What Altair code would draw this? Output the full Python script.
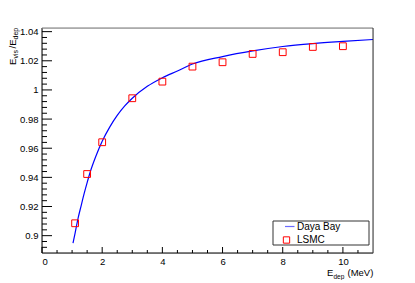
import altair as alt
import pandas as pd

FONT = "Liberation Sans"

# Daya Bay curve
curve_x = [1.03, 1.1, 1.2, 1.3, 1.4, 1.5, 1.6, 1.8, 2.0, 2.25, 2.5, 2.75, 3.0,
           3.5, 4.0, 4.5, 5.0, 6.0, 7.0, 8.0, 9.0, 10.0, 11.0]
curve_y = [0.8948, 0.9018, 0.9120, 0.9205, 0.9288, 0.9364, 0.9435, 0.9550,
           0.9648, 0.9745, 0.9825, 0.9890, 0.9943, 1.0025, 1.0083, 1.0130,
           1.0178, 1.0229, 1.0268, 1.0298, 1.0318, 1.0333, 1.0346]

# LSMC points
lsmc_x = [1.1, 1.5, 2, 3, 4, 5, 6, 7, 8, 9, 10]
lsmc_y = [0.9085, 0.9423, 0.9641, 0.9943, 1.0057, 1.016, 1.019, 1.0247,
          1.0259, 1.0295, 1.030]

# axis ticks
x_major = [0, 2, 4, 6, 8, 10]
x_minor = [0.5, 1, 1.5, 2.5, 3, 3.5, 4.5, 5, 5.5, 6.5, 7, 7.5, 8.5, 9, 9.5, 10.5]
y_major = [0.9, 0.92, 0.94, 0.96, 0.98, 1.0, 1.02, 1.04]
y_minor = [0.892, 0.896, 0.904, 0.908, 0.912, 0.916, 0.924, 0.928, 0.932,
           0.936, 0.944, 0.948, 0.952, 0.956, 0.964, 0.968, 0.972, 0.976,
           0.984, 0.988, 0.992, 0.996, 1.004, 1.008, 1.012, 1.016, 1.024,
           1.028, 1.032, 1.036]

legend_labels = ["Daya Bay", "LSMC"]

W, H = 331, 225
xs = alt.Scale(domain=[0, 11], nice=False, zero=False)
ys = alt.Scale(domain=[0.8881, 1.0425], nice=False, zero=False)

curve_df = pd.DataFrame({"x": curve_x, "y": curve_y})
lsmc_df = pd.DataFrame({"x": lsmc_x, "y": lsmc_y})
one = alt.Data(values=[{"a": 1}])

x_axis = alt.Axis(values=x_major, ticks=False, domain=False, grid=False,
                  labelFont=FONT, labelFontSize=9.5, labelColor="black",
                  labelPadding=3, title=None)
y_axis = alt.Axis(values=y_major, ticks=False, domain=False, grid=False,
                  labelFont=FONT, labelFontSize=9.5, labelColor="black",
                  labelPadding=4, title=None,
                  labelExpr="format(datum.value, '.2~f')")

curve = alt.Chart(curve_df).mark_line(color="#0000ff", strokeWidth=1.2,
                                      interpolate="monotone").encode(
    x=alt.X("x:Q", scale=xs, axis=x_axis),
    y=alt.Y("y:Q", scale=ys, axis=y_axis),
)

points = alt.Chart(lsmc_df).mark_point(shape="square", size=46, color="#ff0000",
                                       strokeWidth=1, filled=False, opacity=1).encode(
    x=alt.X("x:Q", scale=xs, axis=x_axis),
    y=alt.Y("y:Q", scale=ys, axis=y_axis),
)

ymaj = alt.Chart(pd.DataFrame({"v": y_major})).mark_rule(color="black", strokeWidth=1).encode(
    y=alt.Y("v:Q", scale=ys, axis=y_axis), x=alt.value(0), x2=alt.value(10))
ymin = alt.Chart(pd.DataFrame({"v": y_minor})).mark_rule(color="black", strokeWidth=1).encode(
    y=alt.Y("v:Q", scale=ys, axis=y_axis), x=alt.value(0), x2=alt.value(5))
xmaj = alt.Chart(pd.DataFrame({"v": x_major})).mark_rule(color="black", strokeWidth=1).encode(
    x=alt.X("v:Q", scale=xs, axis=x_axis), y=alt.value(H), y2=alt.value(H - 6))
xmin = alt.Chart(pd.DataFrame({"v": x_minor})).mark_rule(color="black", strokeWidth=1).encode(
    x=alt.X("v:Q", scale=xs, axis=x_axis), y=alt.value(H), y2=alt.value(H - 3))

# frame
f_left = alt.Chart(one).mark_rule(color="black", strokeWidth=1).encode(
    x=alt.value(0), y=alt.value(0), y2=alt.value(H))
f_bottom = alt.Chart(one).mark_rule(color="black", strokeWidth=1).encode(
    x=alt.value(0), x2=alt.value(W), y=alt.value(H))
f_top = alt.Chart(one).mark_rule(color="#7a7a7a", strokeWidth=1.2).encode(
    x=alt.value(0), x2=alt.value(W), y=alt.value(0))
f_right = alt.Chart(one).mark_rule(color="#333333", strokeWidth=1).encode(
    x=alt.value(W), y=alt.value(0), y2=alt.value(H))

# legend
leg_box = alt.Chart(one).mark_rect(fill="white", stroke="#333333", strokeWidth=1).encode(
    x=alt.value(231), x2=alt.value(327), y=alt.value(193), y2=alt.value(217))
leg_line = alt.Chart(one).mark_rule(color="#6b6bff", strokeWidth=1.2).encode(
    x=alt.value(243), x2=alt.value(252.5), y=alt.value(198.5))
leg_pt = alt.Chart(one).mark_point(shape="square", size=40, color="#ff0000",
                                   strokeWidth=1, filled=False, opacity=1).encode(
    x=alt.value(244.5), y=alt.value(212))
leg_t1 = alt.Chart(one).mark_text(text=legend_labels[0], align="left", baseline="middle",
                                  font=FONT, fontSize=10, color="black").encode(
    x=alt.value(255), y=alt.value(198.5))
leg_t2 = alt.Chart(one).mark_text(text=legend_labels[1], align="left", baseline="middle",
                                  font=FONT, fontSize=10, color="black").encode(
    x=alt.value(255), y=alt.value(212))

# axis titles (with subscripts)
def txt(t, x, y, size, angle=0):
    kw = dict(text=t, align="left", baseline="alphabetic", font=FONT,
              fontSize=size, color="black")
    if angle:
        kw["angle"] = angle
    return alt.Chart(one).mark_text(**kw).encode(x=alt.value(x), y=alt.value(y))

yt = [txt("E", -26.5, 37, 9.5, 270), txt("vis", -24.3, 30.5, 7, 270),
      txt("/E", -26.5, 20.5, 9.5, 270), txt("dep", -24.3, 11.5, 7, 270)]
xt = [txt("E", 285, 248, 9.5), txt("dep", 291.5, 250.5, 6.5), txt("(MeV)", 305.5, 248, 9.5)]

chart = alt.layer(curve, points, ymaj, ymin, xmaj, xmin, f_left, f_bottom, f_top, f_right,
                  leg_box, leg_line, leg_pt, leg_t1, leg_t2, *yt, *xt).properties(
    width=W, height=H,
    autosize=alt.AutoSizeParams(type="none"),
    padding={"left": 34, "top": 20, "right": 34, "bottom": 27},
).configure_view(stroke=None).configure(background="white")

chart.save("out.html", embed_options={"renderer": "svg", "actions": False})
